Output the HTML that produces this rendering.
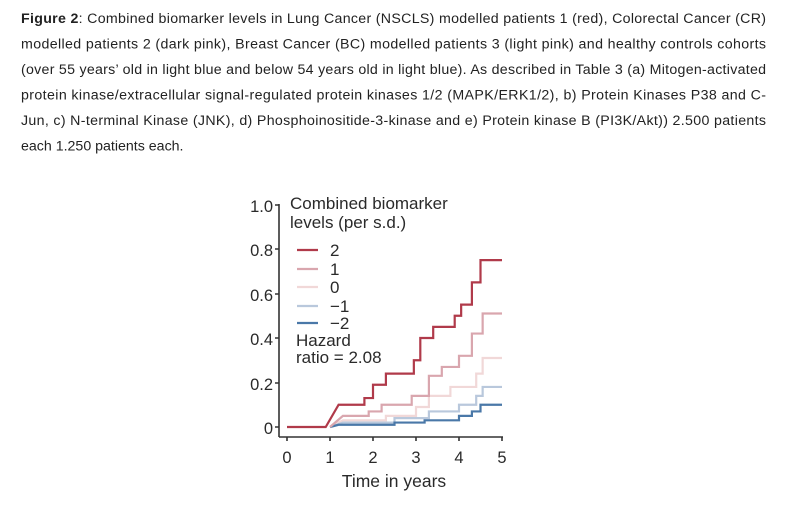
<!DOCTYPE html>
<html><head><style>
body{margin:0;background:#fff;width:801px;height:507px;overflow:hidden}
svg{display:block}
text{font-family:"Liberation Sans",Arial,sans-serif}
</style></head><body>
<svg width="801" height="507" xmlns="http://www.w3.org/2000/svg">
<g font-size="14.2" fill="#222">
<text x="21" y="23" textLength="745" lengthAdjust="spacing"><tspan font-weight="bold">Figure 2</tspan>: Combined biomarker levels in Lung Cancer (NSCLS) modelled patients 1 (red), Colorectal Cancer (CR)</text>
<text x="21" y="48.5" textLength="745" lengthAdjust="spacing">modelled patients 2 (dark pink), Breast Cancer (BC) modelled patients 3 (light pink) and healthy controls cohorts</text>
<text x="21" y="74" textLength="745" lengthAdjust="spacing">(over 55 years’ old in light blue and below 54 years old in light blue). As described in Table 3 (a) Mitogen-activated</text>
<text x="21" y="99.5" textLength="745" lengthAdjust="spacing">protein kinase/extracellular signal-regulated protein kinases 1/2 (MAPK/ERK1/2), b) Protein Kinases P38 and C-</text>
<text x="21" y="125" textLength="745" lengthAdjust="spacing">Jun, c) N-terminal Kinase (JNK), d) Phosphoinositide-3-kinase and e) Protein kinase B (PI3K/Akt)) 2.500 patients</text>
<text x="21" y="150.5">each 1.250 patients each.</text>
</g>
<g stroke="#333" stroke-width="1.6" fill="none">
<path d="M279,204 V437"/>
<path d="M279,437 H503"/>
<path d="M275,205 H279 M275,249 H279 M275,294 H279 M275,338 H279 M275,383 H279 M275,427 H279"/>
<path d="M287,437 V441 M330,437 V441 M373,437 V441 M416,437 V441 M459,437 V441 M502,437 V441"/>
</g>
<g font-size="16.5" fill="#2a2a2a" text-anchor="end">
<text x="273" y="212">1.0</text><text x="273" y="256">0.8</text><text x="273" y="301">0.6</text>
<text x="273" y="345">0.4</text><text x="273" y="390">0.2</text><text x="273" y="434">0</text>
</g>
<g font-size="16.5" fill="#2a2a2a" text-anchor="middle">
<text x="287" y="463">0</text><text x="330" y="463">1</text><text x="373" y="463">2</text>
<text x="416" y="463">3</text><text x="459" y="463">4</text><text x="502" y="463">5</text>
<text x="394" y="487" font-size="17.5">Time in years</text>
</g>
<g font-size="17" fill="#2a2a2a">
<text x="290" y="209">Combined biomarker</text>
<text x="290" y="228">levels (per s.d.)</text>
<text x="330" y="256">2</text><text x="330" y="275">1</text><text x="330" y="293">0</text>
<text x="330" y="312">−1</text><text x="330" y="329">−2</text>
<text x="296" y="346">Hazard</text><text x="296" y="363">ratio = 2.08</text>
</g>
<g stroke-width="2.2" fill="none">
<path d="M297,250 H318" stroke="#b03a4a"/>
<path d="M297,269 H318" stroke="#d9a6ae"/>
<path d="M297,287 H318" stroke="#f1d8d8"/>
<path d="M297,306 H318" stroke="#b9c8dc"/>
<path d="M297,323 H318" stroke="#4a78a8"/>
</g>
<g transform="translate(287,427) scale(43,-222.5)" fill="none" stroke-width="2.2">
<path vector-effect="non-scaling-stroke" stroke="#f1d8d8" d="M1,0 L1.3,0.03 H2.3 V0.05 H3 V0.09 H3.3 V0.14 H3.8 V0.18 H4.4 V0.24 H4.55 V0.31 H5"/>
<path vector-effect="non-scaling-stroke" stroke="#b9c8dc" d="M1,0 L1.3,0.02 H2.5 V0.04 H3.3 V0.07 H4 V0.1 H4.4 V0.14 H4.55 V0.18 H5"/>
<path vector-effect="non-scaling-stroke" stroke="#4a78a8" d="M1,0 L1.2,0.01 H2.5 V0.02 H3.2 V0.03 H4 V0.05 H4.3 V0.07 H4.5 V0.1 H5"/>
<path vector-effect="non-scaling-stroke" stroke="#d9a6ae" d="M1,0 L1.3,0.05 H1.9 V0.07 H2.2 V0.1 H2.9 V0.14 H3.3 V0.23 H3.6 V0.27 H4 V0.32 H4.3 V0.42 H4.55 V0.51 H5"/>
<path vector-effect="non-scaling-stroke" stroke="#b03a4a" d="M0,0 H0.9 L1.2,0.1 H1.8 V0.13 H2 V0.19 H2.3 V0.24 H2.95 V0.3 H3.1 V0.4 H3.4 V0.45 H3.9 V0.5 H4.05 V0.55 H4.3 V0.65 H4.5 V0.75 H5"/>
</g>
</svg>
</body></html>
